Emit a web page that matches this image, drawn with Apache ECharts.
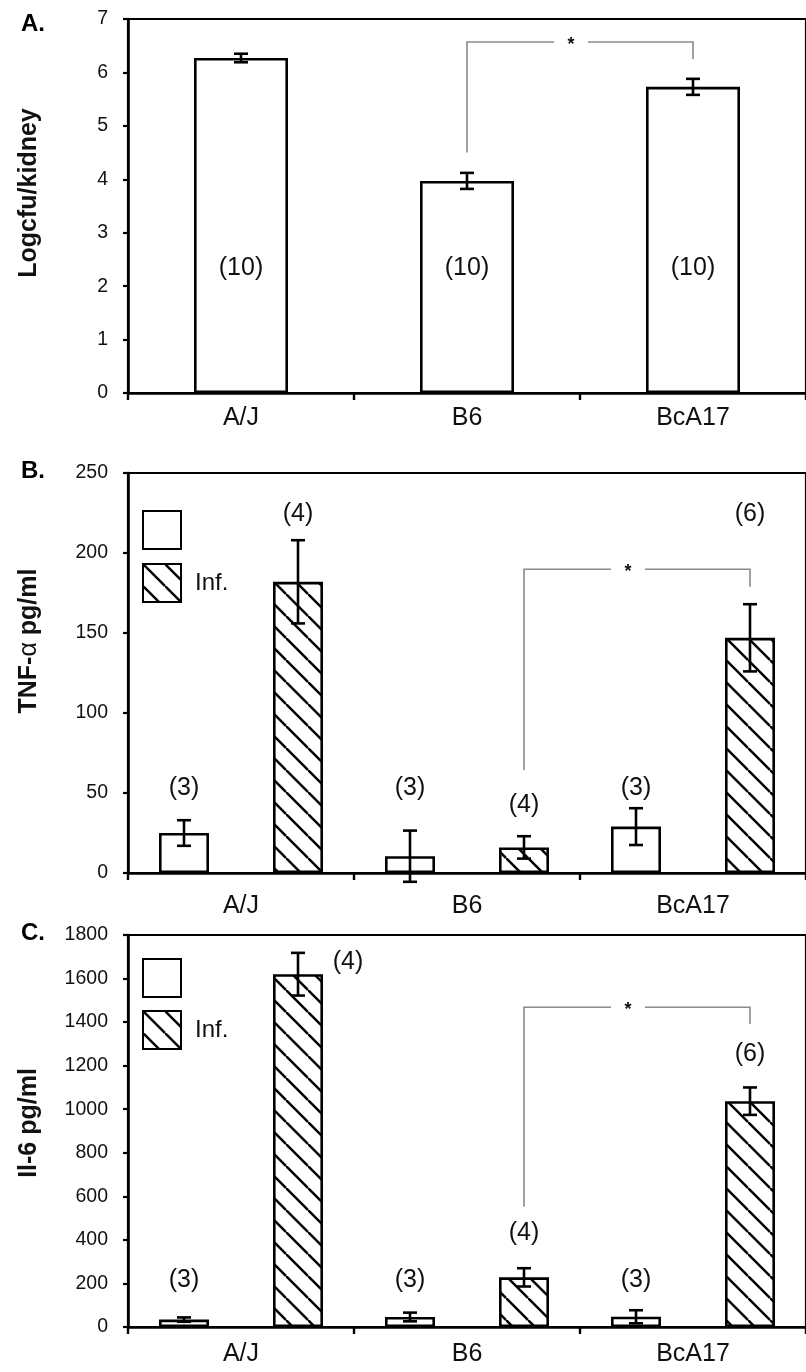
<!DOCTYPE html>
<html>
<head>
<meta charset="utf-8">
<script src="https://cdn.jsdelivr.net/npm/echarts@6/dist/echarts.min.js"></script>
<style>
html,body{margin:0;padding:0;background:#fff;}
#chart{width:806px;height:1372px;}
</style>
</head>
<body>
<div id="chart"></div>
<script>
// ---- data ----
const categories = ['A/J', 'B6', 'BcA17'];

const cfuMean = [6.27, 3.97, 5.73];
const cfuErr = [0.08, 0.15, 0.15];
const cfuN = ['(10)', '(10)', '(10)'];
const cfuNAt = [2.34, 2.34, 2.34];
const cfuBracket = [4.5, 6.57, 6.25];      // start, top, end (log cfu)

const tnfCtrl = [25, 10.5, 29];
const tnfCtrlErr = [8, 16, 11.5];
const tnfInf = [182, 16, 147];
const tnfInfErr = [26, 7, 21];
const tnfCtrlN = ['(3)', '(3)', '(3)'];
const tnfInfN = ['(4)', '(4)', '(6)'];
const tnfCtrlNAt = [53, 53, 53];
const tnfInfNAt = [224, 42.5, 224];
const tnfBracket = [64.4, 189.8, 178.9];  // pg/ml

const il6Ctrl = [34, 46, 47];
const il6CtrlErr = [10, 20, 30];
const il6Inf = [1620, 228, 1037];
const il6InfErr = [98, 42, 63];
const il6CtrlN = ['(3)', '(3)', '(3)'];
const il6InfN = ['(4)', '(4)', '(6)'];
const il6CtrlNAt = [216, 216, 216];
const il6InfNAt = [1677, 430, 1253];
const il6Bracket = [552, 1468, 1391];     // pg/ml

const axisA = {min: 0, max: 7, interval: 1};
const axisB = {min: 0, max: 250, interval: 50};
const axisC = {min: 0, max: 1800, interval: 200};

// ---- styling ----
const FONT = "'Liberation Sans', Arial, sans-serif";
const CTRL_NAME = ' ';
const INF_NAME = 'Inf.';
const PAIR_OFF = 57;   // px offset of grouped bar centres

function hatch() {
  const s = 22;
  const c = document.createElement('canvas');
  c.width = s; c.height = s;
  const g = c.getContext('2d');
  g.fillStyle = '#fff'; g.fillRect(0, 0, s, s);
  g.strokeStyle = '#000'; g.lineWidth = 2.5;
  [[0, 0, s, s], [-s, 0, 0, s], [0, -s, s, 0]].forEach(function (l) {
    g.beginPath(); g.moveTo(l[0], l[1]); g.lineTo(l[2], l[3]); g.stroke();
  });
  return c;
}
const hatchPattern = {image: hatch(), repeat: 'repeat'};

function errorSeries(idx, means, errs, offset) {
  return {
    type: 'custom', xAxisIndex: idx, yAxisIndex: idx, z: 5, clip: false, silent: true,
    data: means.map(function (m, i) { return [i, m, errs[i]]; }),
    encode: {x: 0, y: 1},
    renderItem: function (params, api) {
      const i = api.value(0), v = api.value(1), e = api.value(2);
      const hi = api.coord([i, v + e]);
      const lo = api.coord([i, v - e]);
      const x = hi[0] + offset, w = 7;
      const st = {stroke: '#000', lineWidth: 2.6};
      return {type: 'group', children: [
        {type: 'line', shape: {x1: x, y1: hi[1], x2: x, y2: lo[1]}, style: st},
        {type: 'line', shape: {x1: x - w, y1: hi[1], x2: x + w, y2: hi[1]}, style: st},
        {type: 'line', shape: {x1: x - w, y1: lo[1], x2: x + w, y2: lo[1]}, style: st}
      ]};
    }
  };
}

function nSeries(idx, labels, at, offset, extraDx) {
  return {
    type: 'custom', xAxisIndex: idx, yAxisIndex: idx, z: 6, clip: false, silent: true,
    data: at.map(function (a, i) { return [i, a]; }),
    encode: {x: 0, y: 1},
    renderItem: function (params, api) {
      const p = api.coord([api.value(0), api.value(1)]);
      const dx = extraDx ? extraDx[params.dataIndex] : 0;
      return {type: 'text', x: p[0] + offset + dx, y: p[1],
        style: {text: labels[params.dataIndex], fill: '#111', font: '25px ' + FONT,
          textAlign: 'center', textVerticalAlign: 'middle'}};
    }
  };
}

function bracketSeries(idx, from, to, vals, offset) {
  return {
    type: 'custom', xAxisIndex: idx, yAxisIndex: idx, z: 4, clip: false, silent: true,
    data: [[from, vals[0]]],
    encode: {x: 0, y: 1},
    renderItem: function (params, api) {
      const a = api.coord([from, vals[0]]);
      const t = api.coord([from, vals[1]]);
      const b = api.coord([to, vals[2]]);
      const x1 = a[0] + offset, x2 = b[0] + offset;
      const sx = x1 + (x2 - x1) * 0.46, gap = 17;
      const st = {stroke: '#8a8a8a', lineWidth: 1.6, fill: null};
      return {type: 'group', children: [
        {type: 'polyline', shape: {points: [[x1, a[1]], [x1, t[1]], [sx - gap, t[1]]]}, style: st},
        {type: 'polyline', shape: {points: [[sx + gap, t[1]], [x2, t[1]], [x2, b[1]]]}, style: st},
        {type: 'text', x: sx, y: t[1] + 3, style: {text: '*', fill: '#111', font: 'bold 18px ' + FONT,
          textAlign: 'center', textVerticalAlign: 'middle'}}
      ]};
    }
  };
}

const grids = [
  {left: 128, right: -8, top: 19, height: 374},
  {left: 128, right: -8, top: 473, height: 400},
  {left: 128, right: -8, top: 935, height: 392}
].map(function (g) { return Object.assign({show: true, borderColor: '#000', borderWidth: 2.2, backgroundColor: '#fff'}, g); });

function xAxis(idx, margin) {
  return {
    type: 'category', gridIndex: idx, data: categories,
    axisLine: {lineStyle: {color: '#000', width: 2.6}},
    axisTick: {show: true, length: 7, lineStyle: {color: '#000', width: 2.4}},
    axisLabel: {color: '#111', fontSize: 25, fontFamily: FONT, margin: margin},
    splitLine: {show: false}
  };
}
function yAxis(idx, range, name, gap, shiftUp) {
  return Object.assign({
    type: 'value', gridIndex: idx,
    name: name, nameLocation: 'middle', nameGap: gap,
    nameTextStyle: {color: '#111', fontSize: 25, fontWeight: 'bold', fontFamily: FONT,
      padding: [0, 0, 0, 2 * shiftUp],
      rich: {b: {fontSize: 25, fontWeight: 'bold', fontFamily: FONT, color: '#111'},
             a: {fontSize: 25, fontWeight: 'normal', fontFamily: FONT, color: '#111'}}},
    axisLine: {show: true, lineStyle: {color: '#000', width: 2.6}},
    axisTick: {show: true, length: 5, lineStyle: {color: '#000', width: 2.2}},
    axisLabel: {color: '#111', fontSize: 19.5, fontFamily: FONT, margin: 20,
      formatter: function (v) { return String(v); }},
    splitLine: {show: false}
  }, range);
}

const barBorder = {borderColor: '#000', borderWidth: 2.6};

const option = {
  animation: false,
  backgroundColor: '#fff',
  textStyle: {fontFamily: FONT},
  grid: grids,
  xAxis: [xAxis(0, 13), xAxis(1, 21), xAxis(2, 15)],
  yAxis: [
    yAxis(0, axisA, 'Logcfu/kidney', 86, 13),
    yAxis(1, axisB, '{b|TNF-}{a|α}{b| pg/ml}', 86, 32),
    yAxis(2, axisC, 'Il-6 pg/ml', 86, 8)
  ],
  legend: [
    {orient: 'vertical', left: 137, top: 505, itemWidth: 38, itemHeight: 38, itemGap: 13, icon: 'rect',
      data: [CTRL_NAME, INF_NAME], selectedMode: false,
      textStyle: {fontSize: 24, fontFamily: FONT, color: '#111', padding: [0, 0, 0, 9]}},
    {orient: 'vertical', left: 137, top: 953, itemWidth: 38, itemHeight: 38, itemGap: 12, icon: 'rect',
      data: [CTRL_NAME, INF_NAME], selectedMode: false,
      textStyle: {fontSize: 24, fontFamily: FONT, color: '#111', padding: [0, 0, 0, 9]}}
  ],
  graphic: [
    {type: 'text', left: 21, top: 12, style: {text: 'A.', font: 'bold 24px ' + FONT, fill: '#000'}},
    {type: 'text', left: 21, top: 459, style: {text: 'B.', font: 'bold 24px ' + FONT, fill: '#000'}},
    {type: 'text', left: 21, top: 921, style: {text: 'C.', font: 'bold 24px ' + FONT, fill: '#000'}}
  ],
  series: [
    // Panel A
    {type: 'bar', name: 'cfu', xAxisIndex: 0, yAxisIndex: 0, data: cfuMean, barWidth: 94,
      itemStyle: Object.assign({color: '#fff'}, barBorder), silent: true},
    errorSeries(0, cfuMean, cfuErr, 0),
    nSeries(0, cfuN, cfuNAt, 0),
    bracketSeries(0, 1, 2, cfuBracket, 0),
    // Panel B
    {type: 'bar', name: CTRL_NAME, xAxisIndex: 1, yAxisIndex: 1, data: tnfCtrl, barWidth: 50, barGap: '128%',
      itemStyle: Object.assign({color: '#fff'}, barBorder), silent: true},
    {type: 'bar', name: INF_NAME, xAxisIndex: 1, yAxisIndex: 1, data: tnfInf, barWidth: 50, barGap: '128%',
      itemStyle: Object.assign({color: hatchPattern}, barBorder), silent: true},
    errorSeries(1, tnfCtrl, tnfCtrlErr, -PAIR_OFF),
    errorSeries(1, tnfInf, tnfInfErr, PAIR_OFF),
    nSeries(1, tnfCtrlN, tnfCtrlNAt, -PAIR_OFF),
    nSeries(1, tnfInfN, tnfInfNAt, PAIR_OFF),
    bracketSeries(1, 1, 2, tnfBracket, PAIR_OFF),
    // Panel C
    {type: 'bar', name: CTRL_NAME, xAxisIndex: 2, yAxisIndex: 2, data: il6Ctrl, barWidth: 50, barGap: '128%',
      itemStyle: Object.assign({color: '#fff'}, barBorder), silent: true},
    {type: 'bar', name: INF_NAME, xAxisIndex: 2, yAxisIndex: 2, data: il6Inf, barWidth: 50, barGap: '128%',
      itemStyle: Object.assign({color: hatchPattern}, barBorder), silent: true},
    errorSeries(2, il6Ctrl, il6CtrlErr, -PAIR_OFF),
    errorSeries(2, il6Inf, il6InfErr, PAIR_OFF),
    nSeries(2, il6CtrlN, il6CtrlNAt, -PAIR_OFF),
    nSeries(2, il6InfN, il6InfNAt, PAIR_OFF, [50, 0, 0]),
    bracketSeries(2, 1, 2, il6Bracket, PAIR_OFF)
  ]
};

const chart = echarts.init(document.getElementById('chart'), null, {renderer: 'canvas'});
chart.setOption(option);
</script>
</body>
</html>
